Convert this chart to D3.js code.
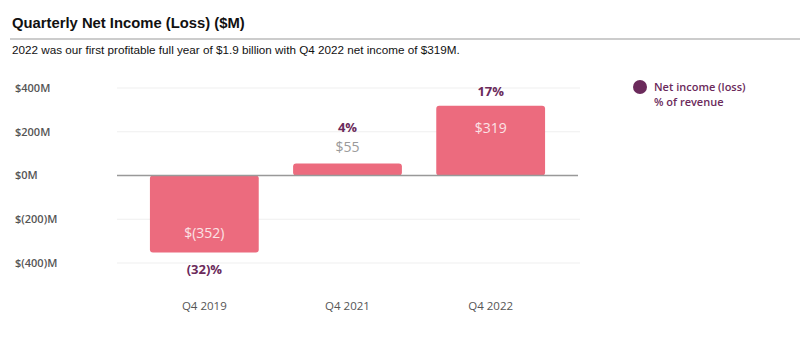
<!DOCTYPE html>
<html lang="en">
<head>
  <meta charset="UTF-8">
  <title>Quarterly Net Income (Loss)</title>
  <script src="https://d3js.org/d3.v7.min.js"></script>
  <style>
    body {
      margin: 0;
      background: #fff;
      font-family: Arial, 'Liberation Sans', sans-serif;
    }
    .title { font-size: 14.8px; font-weight: 700; fill: #111; }
    .subtitle { font-size: 11.7px; fill: #111; }
    .tick-label { font-family: 'Open Sans', sans-serif; font-size: 11px; font-weight: 600; fill: #555; }
    .cat-label { font-family: 'Open Sans', sans-serif; font-size: 11.5px; fill: #555; }
    .pct { font-family: 'Open Sans', sans-serif; font-size: 13px; font-weight: 700; fill: #6b2a5b; }
    .val { font-family: 'Open Sans', sans-serif; font-size: 14px; }
    .legend { font-family: 'Open Sans', sans-serif; font-size: 11px; font-weight: 600; fill: #6b2a5b; }
  </style>
</head>
<body>
  <svg id="chart" width="800" height="353"></svg>

  <script>
    const quarters = ["Q4 2019", "Q4 2021", "Q4 2022"];
    const netIncome = [-352, 55, 319];
    const valueLabels = ["$(352)", "$55", "$319"];
    const pctLabels = ["(32)%", "4%", "17%"];
    const yTicks = [400, 200, 0, -200, -400];
    const yTickLabels = ["$400M", "$200M", "$0M", "$(200)M", "$(400)M"];

    const svg = d3.select("#chart");

    svg.append("text").attr("class", "title").attr("x", 12).attr("y", 28)
      .text("Quarterly Net Income (Loss) ($M)");
    svg.append("line").attr("x1", 10).attr("x2", 800).attr("y1", 39).attr("y2", 39)
      .attr("stroke", "#999").attr("stroke-width", 1);
    svg.append("text").attr("class", "subtitle").attr("x", 12).attr("y", 54)
      .text("2022 was our first profitable full year of $1.9 billion with Q4 2022 net income of $319M.");

    const x = d3.scaleBand()
      .domain(quarters)
      .range([117, 578])
      .paddingInner(0.24)
      .paddingOuter(0.23);

    const y = d3.scaleLinear()
      .domain([-400, 400])
      .range([263, 88]);

    // gridlines
    svg.selectAll(".grid")
      .data(yTicks.filter(d => d !== 0))
      .enter().append("line")
      .attr("x1", 117).attr("x2", 580)
      .attr("y1", d => y(d)).attr("y2", d => y(d))
      .attr("stroke", "#efefef");

    svg.selectAll(".tick-label")
      .data(yTicks)
      .enter().append("text")
      .attr("class", "tick-label")
      .attr("x", 15)
      .attr("y", d => y(d))
      .attr("dy", "0.35em")
      .text((d, i) => yTickLabels[i]);

    const data = quarters.map((q, i) => ({ q, v: netIncome[i], label: valueLabels[i], pct: pctLabels[i] }));

    svg.selectAll(".bar")
      .data(data)
      .enter().append("rect")
      .attr("x", d => x(d.q))
      .attr("width", x.bandwidth())
      .attr("y", d => y(Math.max(0, d.v)))
      .attr("height", d => Math.abs(y(d.v) - y(0)))
      .attr("rx", 3)
      .attr("fill", "#ec6b7e");

    svg.append("line")
      .attr("x1", 117).attr("x2", 578)
      .attr("y1", y(0)).attr("y2", y(0))
      .attr("stroke", "#999").attr("stroke-width", 1.5);

    // value labels
    svg.selectAll(".val")
      .data(data)
      .enter().append("text")
      .attr("class", "val")
      .attr("text-anchor", "middle")
      .attr("x", d => x(d.q) + x.bandwidth() / 2)
      .attr("y", d => {
        if (d.v < 0) return y(d.v) - 15;
        if (y(0) - y(d.v) < 30) return y(d.v) - 11;
        return y(d.v) + 27;
      })
      .attr("fill", d => (d.v > 0 && y(0) - y(d.v) < 30) ? "#9a9a9a" : "#fbe3e6")
      .text(d => d.label);

    // percent labels
    svg.selectAll(".pct")
      .data(data)
      .enter().append("text")
      .attr("class", "pct")
      .attr("text-anchor", "middle")
      .attr("x", d => x(d.q) + x.bandwidth() / 2)
      .attr("y", d => {
        if (d.v < 0) return y(d.v) + 21;
        if (y(0) - y(d.v) < 30) return y(d.v) - 31;
        return y(d.v) - 10;
      })
      .text(d => d.pct);

    svg.selectAll(".cat-label")
      .data(quarters)
      .enter().append("text")
      .attr("class", "cat-label")
      .attr("text-anchor", "middle")
      .attr("x", d => x(d) + x.bandwidth() / 2)
      .attr("y", 310)
      .text(d => d);

    // legend
    svg.append("circle").attr("cx", 640).attr("cy", 87).attr("r", 7).attr("fill", "#6b2a5b");
    svg.append("text").attr("class", "legend").attr("x", 654).attr("y", 91).text("Net income (loss)");
    svg.append("text").attr("class", "legend").attr("x", 654).attr("y", 106).text("% of revenue");
  </script>
</body>
</html>
